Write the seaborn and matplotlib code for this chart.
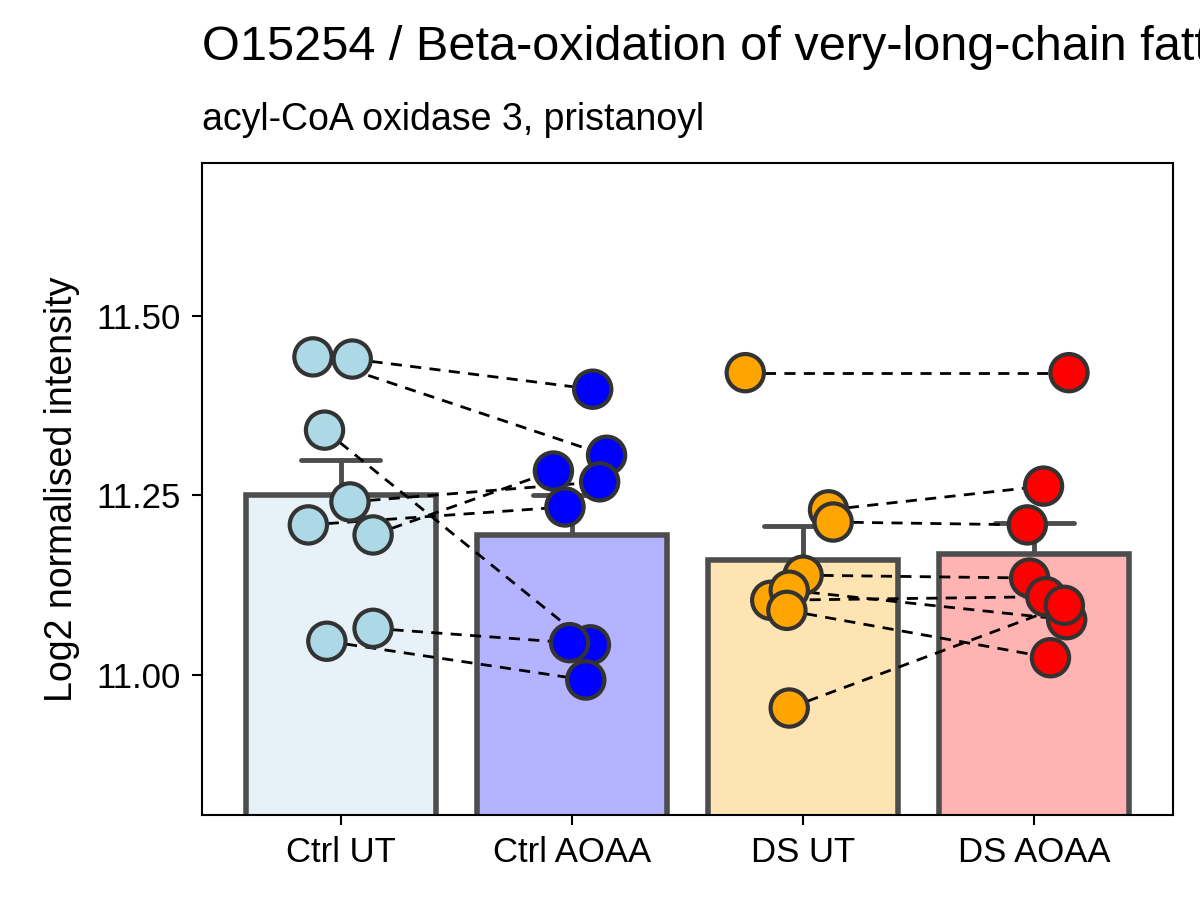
import numpy as np
import pandas as pd
import matplotlib.pyplot as plt
import seaborn as sns

groups = ['Ctrl UT', 'Ctrl AOAA', 'DS UT', 'DS AOAA']
point_colors = ['lightblue', 'blue', 'orange', 'red']
bar_colors = ['#e6f2f8', '#b3b3ff', '#ffe4b3', '#ffb3b3']
means = [11.25, 11.195, 11.16, 11.168]
err_top = [11.30, 11.25, 11.207, 11.212]

# paired samples (index i in UT matches index i in AOAA)
ctrl_ut = [11.440, 11.443, 11.341, 11.241, 11.195, 11.209, 11.047, 11.065]
ctrl_aoaa = [11.398, 11.306, 11.042, 11.269, 11.284, 11.234, 10.993, 11.045]
ds_ut = [11.421, 11.230, 11.213, 11.139, 11.104, 11.118, 11.090, 10.954]
ds_aoaa = [11.421, 11.263, 11.209, 11.135, 11.109, 11.077, 11.024, 11.097]

# horizontal jitter (category units)
jit_ctrl_ut = [0.05, -0.12, -0.07, 0.04, 0.14, -0.14, -0.06, 0.14]
jit_ctrl_aoaa = [0.09, 0.15, 0.08, 0.12, -0.08, -0.03, 0.06, -0.01]
jit_ds_ut = [-0.25, 0.11, 0.13, 0.0, -0.14, -0.06, -0.07, -0.06]
jit_ds_aoaa = [0.15, 0.04, -0.03, -0.02, 0.05, 0.14, 0.07, 0.13]

values = [ctrl_ut, ctrl_aoaa, ds_ut, ds_aoaa]
jitters = [jit_ctrl_ut, jit_ctrl_aoaa, jit_ds_ut, jit_ds_aoaa]

rows = []
for gi, (vals, jits) in enumerate(zip(values, jitters)):
    for v, j in zip(vals, jits):
        rows.append({'group': groups[gi], 'x': gi + j, 'y': v})
pts = pd.DataFrame(rows)
bars = pd.DataFrame({'group': groups, 'mean': means})

sns.set_style('white')
plt.rcParams['font.family'] = ['Arial', 'Liberation Sans', 'DejaVu Sans']

fig = plt.figure(figsize=(12, 9), dpi=100)
ax = fig.add_axes([202 / 1200, 85 / 900, 971 / 1200, 652 / 900])

# error bars (upper only) drawn behind bars
for i in range(4):
    ax.plot([i, i], [means[i], err_top[i]], color='#4d4d4d', lw=3.5, zorder=1)
    ax.plot([i - 0.17, i + 0.17], [err_top[i], err_top[i]], color='#4d4d4d', lw=3.5, zorder=1)

sns.barplot(data=bars, x='group', y='mean', hue='group', palette=bar_colors,
            saturation=1, width=0.82, edgecolor='#4d4d4d', linewidth=4, errorbar=None,
            legend=False, ax=ax, zorder=2)

# paired dashed lines
for a, b, ja, jb, off in [(ctrl_ut, ctrl_aoaa, jit_ctrl_ut, jit_ctrl_aoaa, 0),
                          (ds_ut, ds_aoaa, jit_ds_ut, jit_ds_aoaa, 2)]:
    for ya, yb, xa, xb in zip(a, b, ja, jb):
        ax.plot([off + xa, off + 1 + xb], [ya, yb], ls=(0, (4, 3)), color='black', lw=2, zorder=3)

sns.scatterplot(data=pts, x='x', y='y', hue='group', palette=point_colors, s=720,
                edgecolor='#333333', linewidth=3, legend=False, ax=ax, zorder=4)

ax.set_xlim(-0.6, 3.6)
ax.set_ylim(10.805, 11.713)
ax.set_xticks(range(4))
ax.set_xticklabels(groups)
ax.set_yticks([11.0, 11.25, 11.5])
ax.set_yticklabels(['11.00', '11.25', '11.50'])
ax.tick_params(axis='both', labelsize=25, colors='black', length=7, width=1.5,
               left=True, bottom=True, pad=8)
ax.set_xlabel('')
ax.set_ylabel('Log2 normalised intensity', fontsize=27, color='black', labelpad=12)
for s in ax.spines.values():
    s.set_linewidth(1.5)
    s.set_color('black')

fig.text(202 / 1200, 1 - 47 / 900, 'O15254 / Beta-oxidation of very-long-chain fatty acids',
         fontsize=35, va='center', color='black')
fig.text(202 / 1200, 1 - 120 / 900, 'acyl-CoA oxidase 3, pristanoyl', fontsize=27,
         va='center', color='black')

fig.savefig('out.png', dpi=100)
